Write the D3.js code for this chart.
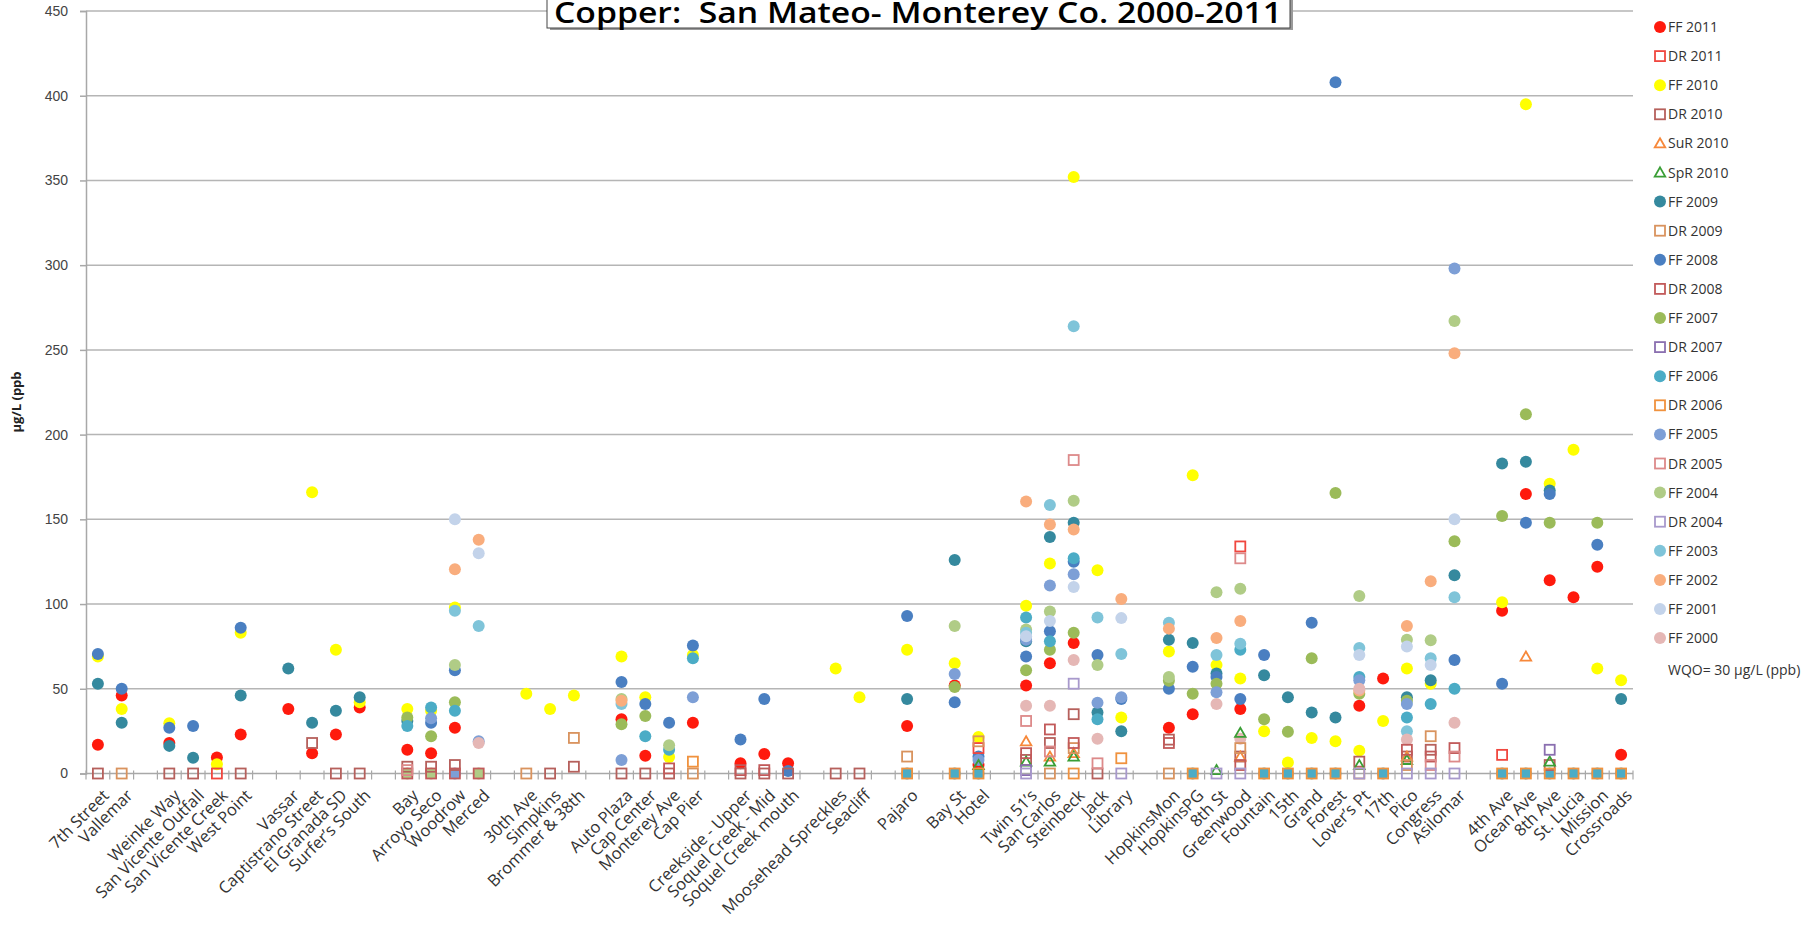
<!DOCTYPE html>
<html>
<head>
<meta charset="utf-8">
<script src="https://cdn.jsdelivr.net/npm/d3@7"></script>
<style>
  body { margin: 0; background: #fff; }
  svg { display: block; font-family: "Open Sans", "Noto Sans", sans-serif; }
</style>
</head>
<body>
<svg id="chart" width="1820" height="926"></svg>
<script>
// sites along the x axis, "" = empty slot between groups
const sites = ["7th Street", "Vallemar", "", "Weinke Way", "San Vicente Outfall", "San Vicente Creek", "West Point", "",
  "Vassar", "Captistrano Street", "El Granada SD", "Surfer\u2019s South", "", "Bay", "Arroyo Seco", "Woodrow", "Merced", "",
  "30th Ave", "Simpkins", "Brommer & 38th", "", "Auto Plaza", "Cap Center", "Monterey Ave", "Cap Pier", "",
  "Creekside - Upper", "Soquel Creek - Mid", "Soquel Creek mouth", "", "Moosehead Spreckles", "Seacliff", "", "Pajaro", "",
  "Bay St", "Hotel", "", "Twin 51\u2019s", "San Carlos", "Steinbeck", "Jack", "Library", "",
  "HopkinsMon", "HopkinsPG", "8th St", "Greenwood", "Fountain", "15th", "Grand", "Forest", "Lover\u2019s Pt", "17th", "Pico",
  "Congress", "Asilomar", "", "4th Ave", "Ocean Ave", "8th Ave", "St. Lucia", "Mission", "Crossroads"];

const yTicks = [0, 50, 100, 150, 200, 250, 300, 350, 400, 450];

// values per series as [site, µg/L]
const ff2011 = [["7th Street",17],["Vallemar",46],["Weinke Way",18],["San Vicente Creek",9.5],["West Point",23],["Vassar",38],
  ["Captistrano Street",12],["El Granada SD",23],["Surfer\u2019s South",39],["Bay",14],["Arroyo Seco",12],["Woodrow",27],
  ["Auto Plaza",32],["Cap Center",10.5],["Cap Pier",30],["Creekside - Upper",6],["Soquel Creek - Mid",11.5],["Soquel Creek mouth",6],
  ["Pajaro",28],["Bay St",52],["Hotel",5],["Twin 51\u2019s",52],["San Carlos",65],["Steinbeck",77],["HopkinsMon",27],["HopkinsPG",35],
  ["Greenwood",38],["Lover\u2019s Pt",40],["17th",56],["4th Ave",96],["Ocean Ave",165],["8th Ave",114],["St. Lucia",104],
  ["Mission",122],["Crossroads",11]];
const dr2011 = [["San Vicente Creek",0],["Hotel",15],["Greenwood",134],["4th Ave",11]];
const ff2010 = [["7th Street",69],["Vallemar",38],["Weinke Way",29.6],["San Vicente Creek",5.5],["West Point",83],
  ["Captistrano Street",166],["El Granada SD",73],["Surfer\u2019s South",42],["Bay",38],["Arroyo Seco",37],["Woodrow",98],
  ["30th Ave",47],["Simpkins",38],["Brommer & 38th",46],["Auto Plaza",69],["Cap Center",45],["Monterey Ave",9.7],["Cap Pier",70],
  ["Moosehead Spreckles",62],["Seacliff",45],["Pajaro",73],["Bay St",65],["Hotel",21.5],["Twin 51\u2019s",99],["San Carlos",124],
  ["Steinbeck",352],["Jack",120],["Library",33],["HopkinsMon",72],["HopkinsPG",176],["8th St",64],["Greenwood",56],
  ["Fountain",25],["15th",6.5],["Grand",21],["Forest",19],["Lover\u2019s Pt",13.5],["17th",31],["Pico",62],["Congress",53],
  ["4th Ave",101],["Ocean Ave",395],["8th Ave",171],["St. Lucia",191],["Mission",62],["Crossroads",55]];
const dr2010 = [["7th Street",0],["Weinke Way",0],["San Vicente Outfall",0],["West Point",0],["Captistrano Street",18],
  ["El Granada SD",0],["Surfer\u2019s South",0],["Bay",4],["Arroyo Seco",4],["Woodrow",5],["Simpkins",0],["Brommer & 38th",4],
  ["Auto Plaza",0],["Cap Center",0],["Monterey Ave",0],["Creekside - Upper",0],["Soquel Creek - Mid",0],["Soquel Creek mouth",0],
  ["Moosehead Spreckles",0],["Seacliff",0],["Twin 51\u2019s",8],["San Carlos",18],["Steinbeck",35],["Jack",0],["HopkinsMon",20],
  ["Greenwood",10],["Lover\u2019s Pt",7],["Pico",10],["Congress",14],["8th Ave",5]];
const sur2010 = [["Twin 51\u2019s",19],["San Carlos",10],["Steinbeck",12],["Greenwood",10],["Pico",10],["Ocean Ave",69]];
const spr2010 = [["Hotel",5],["Twin 51\u2019s",7],["San Carlos",7],["Steinbeck",10],["8th St",2],["Greenwood",24],
  ["Lover\u2019s Pt",5],["Pico",8],["8th Ave",7]];
const ff2009 = [["7th Street",53],["Vallemar",30],["Weinke Way",16.3],["San Vicente Outfall",9.3],["West Point",46],["Vassar",62],
  ["Captistrano Street",30],["El Granada SD",37],["Surfer\u2019s South",45],["Bay",31],["Pajaro",44],["Bay St",126],
  ["Twin 51\u2019s",78],["San Carlos",139.6],["Steinbeck",148],["Jack",36],["Library",25],["HopkinsMon",79],["HopkinsPG",77],
  ["8th St",59],["Fountain",58],["15th",45],["Grand",36],["Forest",33],["Pico",45],["Congress",55],["Asilomar",117],
  ["4th Ave",183],["Ocean Ave",184],["8th Ave",167],["Crossroads",44]];
const dr2009 = [["Vallemar",0],["30th Ave",0],["Brommer & 38th",21],["Cap Pier",0],["Pajaro",10],["Hotel",19],["San Carlos",0],
  ["Steinbeck",15],["HopkinsMon",0],["Greenwood",15],["Lover\u2019s Pt",0],["Pico",5],["Congress",22]];
const ff2008 = [["7th Street",70.5],["Vallemar",50],["Weinke Way",27],["San Vicente Outfall",28],["West Point",86],
  ["Arroyo Seco",30],["Woodrow",61],["Auto Plaza",54],["Cap Center",41],["Monterey Ave",30],["Cap Pier",75.5],
  ["Creekside - Upper",20],["Soquel Creek - Mid",44],["Soquel Creek mouth",1.5],["Pajaro",93],["Bay St",42],["Hotel",10],
  ["Twin 51\u2019s",69],["San Carlos",84],["Steinbeck",125],["Jack",70],["Library",44],["HopkinsMon",50],["HopkinsPG",63],
  ["8th St",57],["Greenwood",44],["Fountain",70],["Grand",89],["Forest",408],["Asilomar",67],["4th Ave",53],["Ocean Ave",148],
  ["8th Ave",165],["Mission",135]];
const dr2008 = [["Bay",0],["Arroyo Seco",0],["Woodrow",0],["Merced",0],["Monterey Ave",3],["Creekside - Upper",2],
  ["Soquel Creek - Mid",2],["Twin 51\u2019s",12],["San Carlos",26],["Steinbeck",18],["HopkinsMon",18],["Greenwood",5],
  ["Pico",14],["Congress",10],["Asilomar",15]];
const ff2007 = [["Bay",33],["Arroyo Seco",22],["Woodrow",42],["Auto Plaza",29],["Cap Center",34],["Bay St",51],["Twin 51\u2019s",61],
  ["San Carlos",73],["Steinbeck",83],["HopkinsMon",54.7],["HopkinsPG",47],["8th St",53],["Fountain",32],["15th",24.6],["Grand",68],
  ["Forest",165.5],["Lover\u2019s Pt",47],["Pico",43],["Asilomar",137],["4th Ave",152],["Ocean Ave",212],["8th Ave",148],["Mission",148]];
const dr2007 = [["Twin 51\u2019s",2],["8th Ave",14]];
const ff2006 = [["Bay",28],["Arroyo Seco",39],["Woodrow",37],["Cap Center",22],["Monterey Ave",14],["Cap Pier",68],["Pajaro",0],
  ["Bay St",0],["Hotel",0],["Twin 51\u2019s",92],["San Carlos",78],["Steinbeck",127],["Jack",32],["HopkinsPG",0],["Greenwood",73],
  ["Fountain",0],["15th",0],["Grand",0],["Forest",0],["Lover\u2019s Pt",57],["17th",0],["Pico",33],["Congress",41],["Asilomar",50],
  ["4th Ave",0],["Ocean Ave",0],["8th Ave",0],["St. Lucia",0],["Mission",0],["Crossroads",0]];
const dr2006 = [["Cap Pier",7],["Pajaro",0],["Bay St",0],["Hotel",0],["Steinbeck",0],["Library",9],["HopkinsPG",0],["Fountain",0],
  ["15th",0],["Grand",0],["Forest",0],["17th",0],["4th Ave",0],["Ocean Ave",0],["8th Ave",0],["St. Lucia",0],["Mission",0],
  ["Crossroads",0]];
const ff2005 = [["Arroyo Seco",32.6],["Woodrow",0],["Merced",19],["Auto Plaza",8],["Cap Pier",45],["Bay St",58.7],["Hotel",8],
  ["Twin 51\u2019s",79],["San Carlos",111],["Steinbeck",117.6],["Jack",41.7],["Library",45],["8th St",48],["Lover\u2019s Pt",55],
  ["Pico",41],["Asilomar",298]];
const dr2005 = [["Bay",2],["Twin 51\u2019s",31],["San Carlos",13],["Steinbeck",185],["Jack",6],["Greenwood",127],["Congress",5],
  ["Asilomar",10]];
const ff2004 = [["Bay",0],["Arroyo Seco",0],["Woodrow",64],["Merced",0],["Auto Plaza",44],["Monterey Ave",16.7],["Bay St",87],
  ["Twin 51\u2019s",85],["San Carlos",95.6],["Steinbeck",161],["Jack",64],["HopkinsMon",57],["8th St",107],["Greenwood",109],
  ["Lover\u2019s Pt",104.7],["Pico",79],["Congress",78.7],["Asilomar",267]];
const dr2004 = [["Twin 51\u2019s",0],["Steinbeck",53],["Library",0],["8th St",0],["Greenwood",0],["Lover\u2019s Pt",0],["Pico",0],
  ["Congress",0],["Asilomar",0]];
const ff2003 = [["Woodrow",96],["Merced",87],["Auto Plaza",41],["Twin 51\u2019s",83],["San Carlos",158.5],["Steinbeck",264],
  ["Jack",92],["Library",70.5],["HopkinsMon",89],["8th St",70],["Greenwood",76.6],["Lover\u2019s Pt",74],["Pico",25],
  ["Congress",68],["Asilomar",104]];
const ff2002 = [["Woodrow",120.5],["Merced",138],["Auto Plaza",43],["Twin 51\u2019s",160.5],["San Carlos",147],["Steinbeck",144],
  ["Library",103],["HopkinsMon",85.5],["8th St",80],["Greenwood",90],["Lover\u2019s Pt",49],["Pico",87],["Congress",113.5],
  ["Asilomar",248]];
const ff2001 = [["Woodrow",150],["Merced",130],["Twin 51\u2019s",81],["San Carlos",90],["Steinbeck",110],["Library",91.7],
  ["Lover\u2019s Pt",70],["Pico",75],["Congress",64],["Asilomar",150]];
const ff2000 = [["Merced",18],["Twin 51\u2019s",40],["San Carlos",40],["Steinbeck",67],["Jack",20.5],["8th St",41],
  ["Greenwood",20.5],["Lover\u2019s Pt",50],["Pico",20],["Asilomar",30]];

// legend order, with marker style
const series = [
  {name: "FF 2011", data: ff2011, shape: "circle", color: "#ff1a0d"},
  {name: "DR 2011", data: dr2011, shape: "square", color: "#f0473f"},
  {name: "FF 2010", data: ff2010, shape: "circle", color: "#ffff00"},
  {name: "DR 2010", data: dr2010, shape: "square", color: "#b6605c"},
  {name: "SuR 2010", data: sur2010, shape: "triangle", color: "#f7883a"},
  {name: "SpR 2010", data: spr2010, shape: "triangle", color: "#3a9e35"},
  {name: "FF 2009", data: ff2009, shape: "circle", color: "#35899e"},
  {name: "DR 2009", data: dr2009, shape: "square", color: "#d9935e"},
  {name: "FF 2008", data: ff2008, shape: "circle", color: "#4a7fc1"},
  {name: "DR 2008", data: dr2008, shape: "square", color: "#c25a5a"},
  {name: "FF 2007", data: ff2007, shape: "circle", color: "#9bbb59"},
  {name: "DR 2007", data: dr2007, shape: "square", color: "#8a6fb0"},
  {name: "FF 2006", data: ff2006, shape: "circle", color: "#4bacc6"},
  {name: "DR 2006", data: dr2006, shape: "square", color: "#f0923e"},
  {name: "FF 2005", data: ff2005, shape: "circle", color: "#7d9fd6"},
  {name: "DR 2005", data: dr2005, shape: "square", color: "#dd8a8a"},
  {name: "FF 2004", data: ff2004, shape: "circle", color: "#b0cc86"},
  {name: "DR 2004", data: dr2004, shape: "square", color: "#a899cc"},
  {name: "FF 2003", data: ff2003, shape: "circle", color: "#7fc4d9"},
  {name: "FF 2002", data: ff2002, shape: "circle", color: "#f9ad7d"},
  {name: "FF 2001", data: ff2001, shape: "circle", color: "#c3d3ea"},
  {name: "FF 2000", data: ff2000, shape: "circle", color: "#e5b7b5"}
];

const svg = d3.select("#chart");
const plotLeft = 86, plotRight = 1633, plotTop = 11, plotBottom = 773.5;

const x = d3.scaleBand().domain(d3.range(sites.length)).range([plotLeft, plotRight]);
const y = d3.scaleLinear().domain([0, 450]).range([plotBottom, plotTop]);
const siteIndex = new Map(sites.map((s, i) => [s, i]).filter(d => d[0] !== ""));

// gridlines
svg.append("g")
  .selectAll("line")
  .data(yTicks.filter(d => d > 0))
  .join("line")
  .attr("x1", plotLeft).attr("x2", plotRight)
  .attr("y1", d => y(d)).attr("y2", d => y(d))
  .attr("stroke", "#b5b5b5").attr("stroke-width", 1.5);

// y axis
const yAxis = svg.append("g")
  .attr("transform", `translate(${plotLeft},0)`)
  .call(d3.axisLeft(y).tickValues(yTicks).tickSize(6).tickPadding(12));
yAxis.select(".domain").attr("stroke", "#a8a8a8").attr("stroke-width", 1.5);
yAxis.selectAll(".tick line").attr("stroke", "#a8a8a8").attr("stroke-width", 1.5);
yAxis.selectAll("text").attr("font-size", 14).attr("fill", "#444");

// x axis: ticks between categories
const xAxis = svg.append("g").attr("transform", `translate(0,${plotBottom})`);
xAxis.append("line").attr("x1", plotLeft).attr("x2", plotRight)
  .attr("stroke", "#a8a8a8").attr("stroke-width", 1.5);
xAxis.selectAll("line.tk")
  .data(d3.range(sites.length + 1))
  .join("line").attr("class", "tk")
  .attr("x1", d => plotLeft + d * x.step()).attr("x2", d => plotLeft + d * x.step())
  .attr("y1", -3).attr("y2", 6)
  .attr("stroke", "#a8a8a8").attr("stroke-width", 1.2);
xAxis.selectAll("text")
  .data(sites.map((s, i) => ({s, i})).filter(d => d.s !== ""))
  .join("text")
  .attr("transform", d => `translate(${x(d.i) + x.bandwidth() / 2 + 12},${23}) rotate(-45)`)
  .attr("text-anchor", "end")
  .attr("font-size", 16.5)
  .attr("fill", "#333")
  .text(d => d.s);

// y title
svg.append("text")
  .attr("transform", "translate(21,402) rotate(-90)")
  .attr("text-anchor", "middle")
  .attr("font-size", 13).attr("font-weight", "bold").attr("fill", "#222")
  .text("\u00b5g/L (ppb");

// markers
const tri = d3.symbol().type(d3.symbolTriangle).size(48);
function drawMarker(g, shape, color, cx, cy) {
  if (shape === "circle") {
    g.append("circle").attr("cx", cx).attr("cy", cy).attr("r", 6).attr("fill", color);
  } else if (shape === "square") {
    g.append("rect").attr("x", cx - 5).attr("y", cy - 5).attr("width", 10).attr("height", 10)
      .attr("fill", "none").attr("stroke", color).attr("stroke-width", 1.8);
  } else {
    g.append("path").attr("d", tri()).attr("transform", `translate(${cx},${cy + 1})`)
      .attr("fill", "none").attr("stroke", color).attr("stroke-width", 1.8);
  }
}

const plot = svg.append("g");
// filled markers first, open outlines on top
const ordered = series.filter(s => s.shape === "circle").concat(series.filter(s => s.shape !== "circle"));
ordered.forEach(s => {
  const g = plot.append("g").attr("class", s.name);
  s.data.forEach(([site, v]) => {
    drawMarker(g, s.shape, s.color, x(siteIndex.get(site)) + x.bandwidth() / 2, y(v));
  });
});

// title box
const title = svg.append("g");
title.append("rect").attr("x", 550).attr("y", -6).attr("width", 743).attr("height", 36).attr("fill", "#9a9a9a");
title.append("rect").attr("x", 547).attr("y", -8).attr("width", 743).attr("height", 36)
  .attr("fill", "#fff").attr("stroke", "#444").attr("stroke-width", 1);
title.append("text")
  .attr("x", 918).attr("y", 23)
  .attr("text-anchor", "middle")
  .style("white-space", "pre")
  .attr("font-size", 28).attr("font-weight", 600).attr("fill", "#000")
  .attr("textLength", 728).attr("lengthAdjust", "spacingAndGlyphs")
  .text("Copper:  San Mateo- Monterey Co. 2000-2011");

// legend
const legend = svg.append("g");
series.forEach((s, i) => {
  const ly = 27 + i * 29.1;
  drawMarker(legend, s.shape, s.color, 1660, ly);
  legend.append("text").attr("x", 1668).attr("y", ly + 5)
    .attr("font-size", 14).attr("fill", "#333").text(s.name);
});
legend.append("text").attr("x", 1668).attr("y", 675)
  .attr("font-size", 14).attr("fill", "#333").text("WQO= 30 \u00b5g/L (ppb)");
</script>
</body>
</html>
